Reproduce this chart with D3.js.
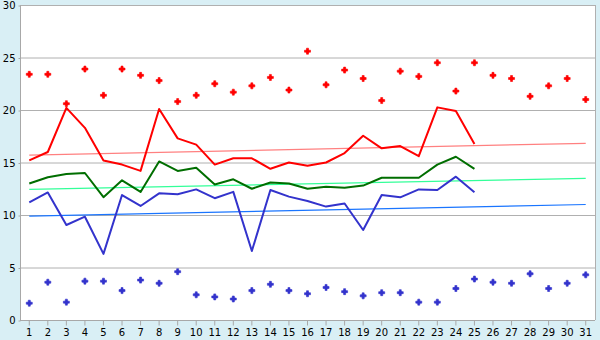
<!DOCTYPE html>
<html><head><meta charset="utf-8">
<script src="https://cdn.jsdelivr.net/npm/d3@7"></script>
<style>html,body{margin:0;padding:0;background:#d9eff5;}svg{display:block;}</style>
</head><body>
<svg id="chart" width="600" height="340"></svg>
<script>
const days = d3.range(1, 32).map(String);
const yTicks = [0, 5, 10, 15, 20, 25, 30];
const maxPoints = [23.4,23.4,20.6,23.9,21.4,23.9,23.3,22.8,20.8,21.4,22.5,21.7,22.3,23.1,21.9,25.6,22.4,23.8,23.0,20.9,23.7,23.2,24.5,21.8,24.5,23.3,23.0,21.3,22.3,23.0,21.0];
const minPoints = [1.6,3.6,1.7,3.7,3.7,2.8,3.8,3.5,4.6,2.4,2.2,2.0,2.8,3.4,2.8,2.5,3.1,2.7,2.3,2.6,2.6,1.7,1.7,3.0,3.9,3.6,3.5,4.4,3.0,3.5,4.3];
const redLine = [15.2,16.0,20.2,18.3,15.2,14.8,14.2,20.1,17.3,16.7,14.8,15.4,15.4,14.4,15.0,14.7,15.0,15.9,17.55,16.35,16.57,15.6,20.25,19.9,16.76];
const greenLine = [13.0,13.6,13.9,14.0,11.7,13.3,12.2,15.1,14.2,14.5,12.9,13.4,12.5,13.1,13.0,12.5,12.7,12.6,12.8,13.55,13.55,13.55,14.8,15.55,14.4];
const blueLine = [11.2,12.15,9.05,9.84,6.3,11.9,10.86,12.06,11.97,12.44,11.6,12.2,6.57,12.38,11.75,11.33,10.8,11.1,8.57,11.9,11.68,12.44,12.38,13.65,12.16];
const trendRed = [15.7, 16.83];
const trendGreen = [12.44, 13.49];
const trendBlue = [9.9, 11.0];

const svg = d3.select("#chart");
const L = 20, R = 595, T = 5, B = 320;
const x = d3.scaleBand().domain(days).range([L, R]);
const y = d3.scaleLinear().domain([0, 30]).range([B, T]);
const cx = d => x(d) + x.bandwidth() / 2;

svg.append("rect").attr("x", L).attr("y", T).attr("width", R - L).attr("height", B - T).attr("fill", "#fff");

// gridlines
svg.append("g").selectAll("line").data(yTicks.filter(v => v > 0)).join("line")
  .attr("x1", L).attr("x2", R).attr("y1", d => y(d) + 0.5).attr("y2", d => y(d) + 0.5)
  .attr("stroke", "#b0b0b0").attr("stroke-width", 1);
// right border
svg.append("line").attr("x1", R + 0.5).attr("x2", R + 0.5).attr("y1", T).attr("y2", B)
  .attr("stroke", "#b0b0b0");

// axes
const yAxis = svg.append("g").attr("transform", `translate(${L + 0.5},0.5)`)
  .call(d3.axisLeft(y).tickValues(yTicks).tickSize(2).tickPadding(3));
const xAxis = svg.append("g").attr("transform", `translate(0,${B + 0.5})`)
  .call(d3.axisBottom(x).tickSize(5).tickPadding(3));
[yAxis, xAxis].forEach(g => {
  g.select(".domain").attr("stroke", "#a8a8a8");
  g.selectAll(".tick line").attr("stroke", "#a8a8a8");
  g.selectAll("text").attr("fill", "#000").style("font-family", "DejaVu Sans, Verdana, sans-serif").style("font-size", "10px");
});
yAxis.select(".domain").attr("d", `M0,${T}V${B}`);
xAxis.select(".domain").attr("d", `M${L},0H${R}`);

// trend lines
const trends = [[trendRed, "#ff8080"], [trendGreen, "#33ff99"], [trendBlue, "#1a75ff"]];
trends.forEach(([t, c]) => {
  svg.append("line").attr("x1", cx(days[0])).attr("x2", cx(days[30]))
    .attr("y1", y(t[0])).attr("y2", y(t[1])).attr("stroke", c).attr("stroke-width", 1.2);
});

// series lines
const lineGen = d3.line().x((d, i) => cx(days[i])).y(d => y(d));
[[greenLine, "#006e00"], [blueLine, "#3333cc"], [redLine, "#ff0000"]].forEach(([s, c]) => {
  svg.append("path").datum(s).attr("d", lineGen).attr("fill", "none")
    .attr("stroke", c).attr("stroke-width", 2).attr("stroke-linejoin", "round");
});

// scatter markers
const cross = d3.symbol().type(d3.symbolCross).size(20);
[[maxPoints, "#ff0000"], [minPoints, "#3333cc"]].forEach(([s, c]) => {
  const g = svg.append("g");
  g.selectAll("path").data(s).join("path")
    .attr("d", cross).attr("fill", c).attr("stroke", c).attr("stroke-width", 0.6)
    .attr("stroke-linejoin", "round")
    .attr("transform", (d, i) => `translate(${cx(days[i])},${y(d)})`);
  g.selectAll("rect").data(s).join("rect")
    .attr("x", (d, i) => cx(days[i]) - 1.5).attr("y", d => y(d) - 1.5)
    .attr("width", 3).attr("height", 3).attr("fill", c);
});
</script>
</body></html>
